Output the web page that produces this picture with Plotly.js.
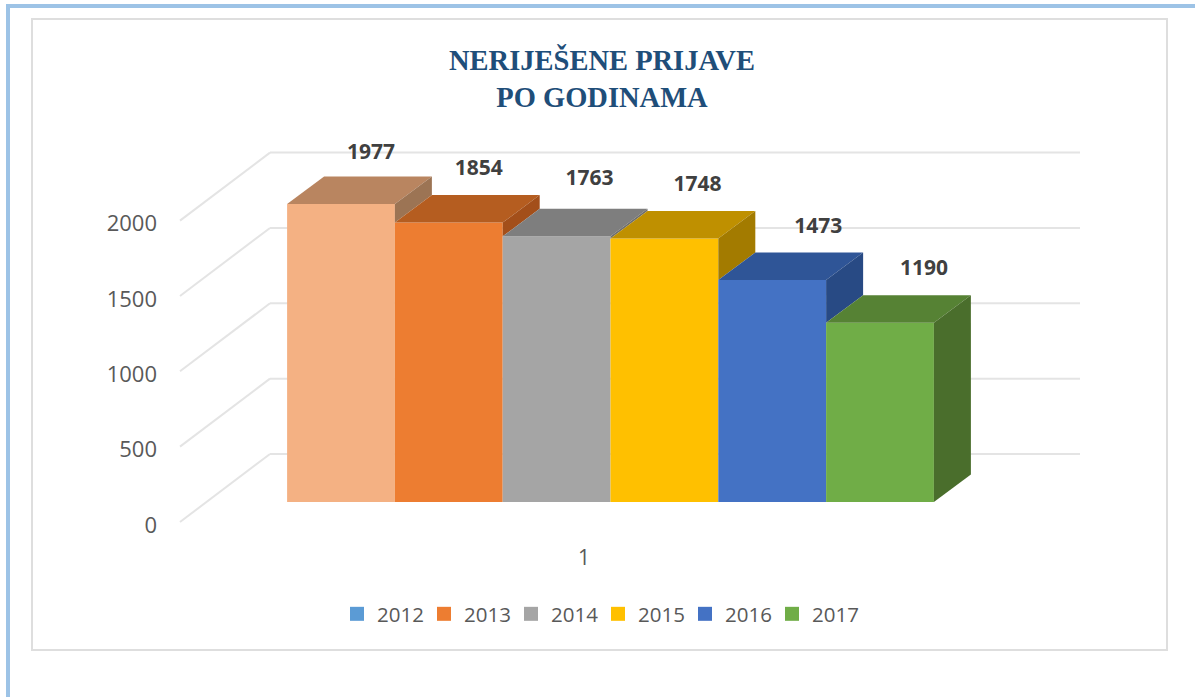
<!DOCTYPE html>
<html>
<head>
<meta charset="utf-8">
<script src="https://cdn.plot.ly/plotly-3.0.1.min.js"></script>
<style>
html,body{margin:0;padding:0;background:#fff;width:1195px;height:697px;overflow:hidden}
#edgeTop{position:absolute;left:6px;top:4px;width:1189px;height:4px;background:#9dc3e6}
#edgeLeft{position:absolute;left:6px;top:4px;width:4px;height:693px;background:#9dc3e6}
#frame{position:absolute;left:31px;top:18px;width:1133px;height:629px;border:2px solid #dedede}
#chart{position:absolute;left:0;top:0;width:1195px;height:697px}
</style>
</head>
<body>
<div id="edgeTop"></div><div id="edgeLeft"></div><div id="frame"></div>
<div id="chart"></div>
<script>
// Data
const years = ['2012','2013','2014','2015','2016','2017'];
const values = [1977,1854,1763,1748,1473,1190];
const categoryLabels = ['1'];
const tickValues = [0,500,1000,1500,2000];

// Styles
const frontColors = ['#f4b183','#ed7d31','#a5a5a5','#ffc000','#4472c4','#70ad47'];
const topColors   = ['#b98560','#b55d20','#7e7e7e','#bf9000','#2f5597','#568234'];
const sideColors  = ['#9c7454','#a34f1a','#6f6f6f','#a37b00','#284a84','#4a6e2c'];
const legendColors= ['#5b9bd5','#ed7d31','#a5a5a5','#ffc000','#4472c4','#70ad47'];
const labelFont = '"Open Sans", sans-serif';

// Geometry of the pseudo-3D view, in axis units (1 x unit = one bar, y in data units)
const pxPerX = 107.8, pxPerY = 0.1507;
const depthX = 37 / pxPerX, depthY = 27.5 / pxPerY;     // bar depth
const floorLift = 20 / pxPerY;                          // bar feet above wall's front corner
const wallX0 = (180 - 341) / pxPerX;                    // wall front edge
const wallX1 = (270 - 341) / pxPerX;                    // wall back corner
const wallX2 = (1080 - 341) / pxPerX;                   // wall right end
const wallRise = 68 / pxPerY;
const categoryPos = (584 - 341) / pxPerX;
const labelNudgeX = [30,30,33,33,46,44].map(p => p / pxPerX);
const labelNudgeY = [50.5,52.5,56.5,52.5,52.5,52.5].map(p => p / pxPerY);

const traces = [];
years.forEach((year, i) => {
  const top = floorLift + values[i];
  const next = i + 1 < values.length ? floorLift + values[i + 1] : floorLift;
  const L = i - 0.5, R = i + 0.5;
  // top face
  traces.push({type:'scatter', mode:'lines', fill:'toself', fillcolor:topColors[i],
    line:{width:0, color:topColors[i]}, hoverinfo:'skip', showlegend:false,
    x:[L, R, R + depthX, L + depthX, L],
    y:[top, top, top + depthY, top + depthY, top]});
  // right face, only the part above the next (shorter) bar's roof
  traces.push({type:'scatter', mode:'lines', fill:'toself', fillcolor:sideColors[i],
    line:{width:0, color:sideColors[i]}, hoverinfo:'skip', showlegend:false,
    x:[R, R + depthX, R + depthX, R, R],
    y:[top, top + depthY, next + depthY, next, top]});
  // front face
  traces.push({type:'bar', name:year, x:[i], y:[values[i]], base:[floorLift], width:1,
    marker:{color:frontColors[i], line:{width:0}}, showlegend:false});
  // legend key
  traces.push({type:'scatter', mode:'markers', name:year, x:[null], y:[null],
    marker:{symbol:'square', size:14, color:legendColors[i]}, showlegend:true});
});
traces.push({type:'scatter', mode:'text', x:years.map((_, i) => i + labelNudgeX[i]),
  y:values.map((v, i) => floorLift + v + labelNudgeY[i]),
  text:values.map(String), textposition:'middle center',
  textfont:{family:labelFont, size:21, color:'#404040', weight:700},
  hoverinfo:'skip', showlegend:false});

// Walls
const wallLine = {color:'#e4e4e4', width:2};
const shapes = [];
tickValues.forEach(v => {
  shapes.push({type:'line', layer:'below', xref:'x', yref:'y', x0:wallX0, y0:v, x1:wallX1, y1:v + wallRise, line:wallLine});
  shapes.push({type:'line', layer:'below', xref:'x', yref:'y', x0:wallX1, y0:v + wallRise, x1:wallX2, y1:v + wallRise, line:wallLine});
});

const plotL = 158, plotR = 1090, plotT = 140, plotB = 543;
const layout = {
  width:1195, height:697, autosize:false,
  margin:{l:plotL, r:1195 - plotR, t:plotT, b:697 - plotB, pad:0},
  paper_bgcolor:'rgba(0,0,0,0)', plot_bgcolor:'rgba(0,0,0,0)',
  barmode:'overlay',
  title:{text:'NERIJEŠENE PRIJAVE<br>PO GODINAMA', x:602/1195, xanchor:'center', y:1-70/697, yanchor:'middle',
    font:{family:'"Liberation Serif", serif', size:28.5, color:'#1f4e79', weight:700}},
  xaxis:{range:[(plotL - 341) / pxPerX, (plotR - 341) / pxPerX], tickmode:'array', tickvals:[categoryPos], ticktext:categoryLabels,
    showgrid:false, zeroline:false, showline:false, ticks:'', fixedrange:true,
    tickfont:{family:labelFont, size:21, color:'#595959'}},
  yaxis:{range:[(522 - plotB) / pxPerY, (522 - plotT) / pxPerY], tickmode:'array', tickvals:tickValues, ticktext:tickValues.map(String),
    showgrid:false, zeroline:false, showline:false, ticks:'', fixedrange:true, ticklabelshift:3,
    tickfont:{family:labelFont, size:22, color:'#595959'}},
  shapes:shapes,
  showlegend:true,
  legend:{orientation:'h', x:(598 - plotL) / (plotR - plotL), xanchor:'center', y:-(614 - plotB) / (plotB - plotT), yanchor:'middle',
    entrywidth:42, entrywidthmode:'pixels', itemsizing:'trace',
    font:{family:labelFont, size:20.5, color:'#595959'}, bgcolor:'rgba(0,0,0,0)'}
};
Plotly.newPlot('chart', traces, layout, {displayModeBar:false, staticPlot:true});
</script>
</body>
</html>
